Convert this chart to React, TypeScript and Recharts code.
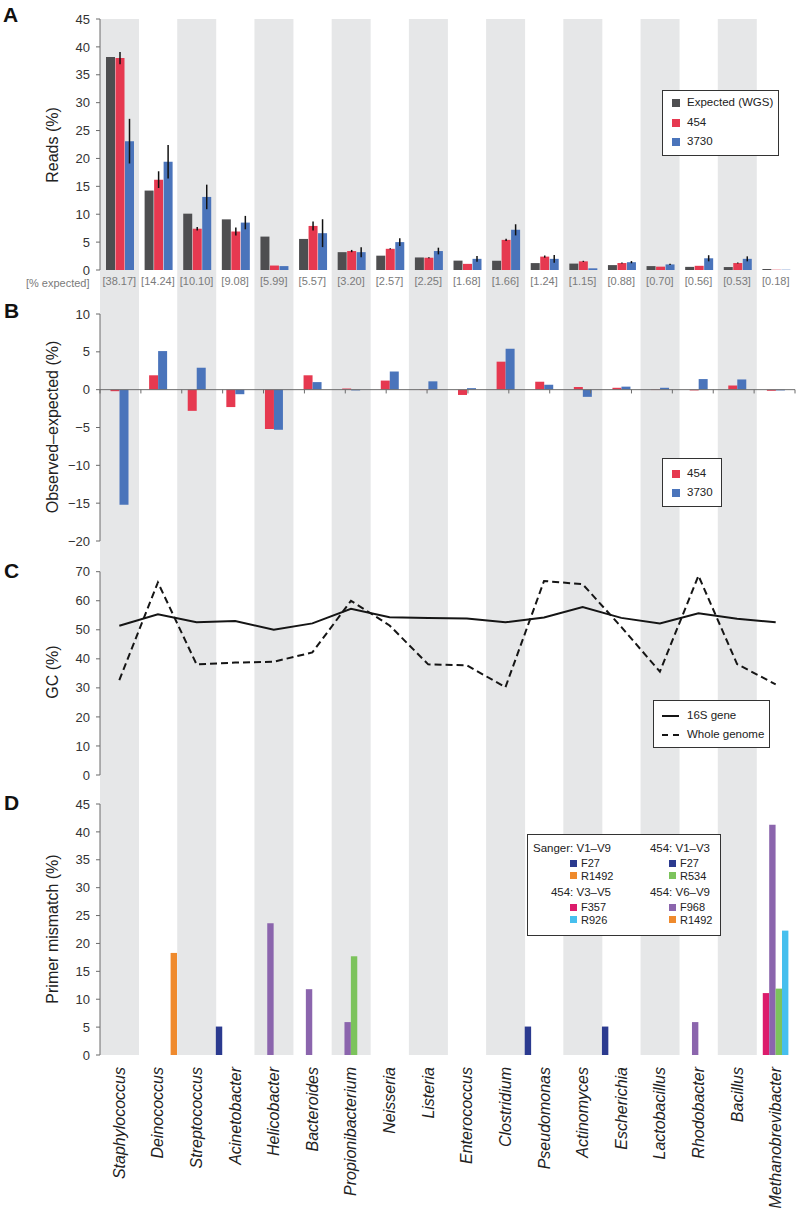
import React from 'react';
import { BarChart, Bar, LineChart, Line, XAxis, YAxis, ErrorBar, ReferenceLine } from 'recharts';

// genera in order of expected abundance
const genera = [
  'Staphylococcus', 'Deinococcus', 'Streptococcus', 'Acinetobacter', 'Helicobacter', 'Bacteroides',
  'Propionibacterium', 'Neisseria', 'Listeria', 'Enterococcus', 'Clostridium', 'Pseudomonas',
  'Actinomyces', 'Escherichia', 'Lactobacillus', 'Rhodobacter', 'Bacillus', 'Methanobrevibacter',
];

// A: reads (%)
const expectedPct = [38.17, 14.24, 10.1, 9.08, 5.99, 5.57, 3.2, 2.57, 2.25, 1.68, 1.66, 1.24, 1.15, 0.88, 0.7, 0.56, 0.53, 0.18];
const reads454 = [38.0, 16.2, 7.4, 6.9, 0.8, 7.9, 3.4, 3.8, 2.2, 1.1, 5.4, 2.4, 1.55, 1.25, 0.6, 0.75, 1.25, 0.05];
const err454 = [1.1, 1.5, 0.3, 0.7, 0, 0.8, 0.2, 0.1, 0.1, 0, 0.2, 0.2, 0.1, 0.1, 0, 0, 0.1, 0];
const reads3730 = [23.1, 19.4, 13.1, 8.5, 0.7, 6.6, 3.2, 5.0, 3.4, 2.0, 7.2, 2.0, 0.3, 1.4, 1.0, 2.1, 2.0, 0.05];
const err3730 = [4.0, 3.0, 2.2, 1.2, 0, 2.5, 0.9, 0.7, 0.6, 0.5, 1.0, 0.7, 0, 0.2, 0.1, 0.55, 0.45, 0];

// B: observed - expected (%)
const diff454 = [-0.2, 1.9, -2.8, -2.3, -5.2, 1.9, 0.15, 1.2, -0.05, -0.7, 3.7, 1.05, 0.35, 0.25, -0.05, -0.1, 0.55, -0.15];
const diff3730 = [-15.2, 5.1, 2.9, -0.6, -5.3, 1.0, -0.1, 2.4, 1.1, 0.2, 5.4, 0.65, -0.95, 0.4, 0.25, 1.4, 1.35, -0.1];

// C: GC content (%)
const gc16S = [51.4, 55.3, 52.6, 53.0, 50.0, 52.2, 57.2, 54.3, 54.1, 53.9, 52.6, 54.2, 57.8, 54.1, 52.2, 55.7, 53.8, 52.6];
const gcGenome = [32.7, 66.3, 38.1, 38.7, 39.0, 42.2, 60.0, 51.5, 38.1, 37.8, 30.2, 66.8, 65.7, 51.0, 35.6, 68.6, 38.2, 31.2];

// D: primer mismatch (%)
const mmF27 = [0, 0, 0, 5.1, 0, 0, 0, 0, 0, 0, 0, 5.1, 0, 5.1, 0, 0, 0, 0];
const mmF357 = [0, 0, 0, 0, 0, 0, 0, 0, 0, 0, 0, 0, 0, 0, 0, 0, 0, 11.1];
const mmF968 = [0, 0, 0, 0, 23.6, 11.8, 5.9, 0, 0, 0, 0, 0, 0, 0, 0, 5.9, 0, 41.3];
const mmR534 = [0, 0, 0, 0, 0, 0, 17.7, 0, 0, 0, 0, 0, 0, 0, 0, 0, 0, 11.9];
const mmR926 = [0, 0, 0, 0, 0, 0, 0, 0, 0, 0, 0, 0, 0, 0, 0, 0, 0, 22.3];
const mmR1492 = [0, 18.3, 0, 0, 0, 0, 0, 0, 0, 0, 0, 0, 0, 0, 0, 0, 0, 0];

const bandShade = [1, 0, 1, 0, 1, 0, 1, 0, 1, 0, 1, 0, 1, 0, 1, 0, 1, 0];

const readsTicks = [0, 5, 10, 15, 20, 25, 30, 35, 40, 45];
const diffTicks = [-20, -15, -10, -5, 0, 5, 10];
const gcTicks = [0, 10, 20, 30, 40, 50, 60, 70];
const mismatchTicks = [0, 5, 10, 15, 20, 25, 30, 35, 40, 45];
const boundaryTicks = [0, 1, 2, 3, 4, 5, 6, 7, 8, 9, 10, 11, 12, 13, 14, 15, 16, 17, 18];

const FONT = '"Liberation Sans", Arial, Helvetica, sans-serif';
const AXIS = '#6b6b6b';
const C_EXP = '#4e4e50';
const C_454 = '#e63950';
const C_3730 = '#4a74bb';
const C_BAND = '#e6e7e8';
const C_F27 = '#2b3a8f';
const C_F357 = '#dc1c6c';
const C_F968 = '#8b65ad';
const C_R534 = '#7cc35c';
const C_R926 = '#46bfee';
const C_R1492 = '#ef8a2d';

const primerSets = [
  { title: 'Sanger: V1–V9', primers: [{ name: 'F27', color: C_F27 }, { name: 'R1492', color: C_R1492 }] },
  { title: '454: V1–V3', primers: [{ name: 'F27', color: C_F27 }, { name: 'R534', color: C_R534 }] },
  { title: '454: V3–V5', primers: [{ name: 'F357', color: C_F357 }, { name: 'R926', color: C_R926 }] },
  { title: '454: V6–V9', primers: [{ name: 'F968', color: C_F968 }, { name: 'R1492', color: C_R1492 }] },
];

const bandRows = genera.map((genus, i) => ({ genus, shade: bandShade[i] }));
const readsRows = genera.map((genus, i) => ({
  genus,
  label: `[${expectedPct[i].toFixed(2)}]`,
  expected: expectedPct[i],
  r454: reads454[i],
  e454: err454[i],
  r3730: reads3730[i],
  e3730: err3730[i],
}));
const diffRows = genera.map((genus, i) => ({ genus, d454: diff454[i], d3730: diff3730[i] }));
const gcRows = genera.map((genus, i) => ({ genus, gene: gc16S[i], genome: gcGenome[i] }));
const mismatchRows = genera.map((genus, i) => ({
  genus, F27: mmF27[i], F357: mmF357[i], F968: mmF968[i], R534: mmR534[i], R926: mmR926[i], R1492: mmR1492[i],
}));

const minus = (v: number) => (v < 0 ? `\u2212${-v}` : `${v}`);

const yAxisProps = {
  width: 60,
  tickSize: 4,
  tickMargin: 6,
  interval: 0 as const,
  stroke: AXIS,
  tick: { fontSize: 13, fill: '#333' },
};

const Txt = ({ x, y, size, anchor = 'start', color = '#222', weight = 400, rotate = false, children }: any) => {
  const tx = anchor === 'start' ? '0' : anchor === 'middle' ? '-50%' : '-100%';
  return (
    <div
      style={{
        position: 'absolute', left: x, top: y, fontSize: size, fontWeight: weight, color,
        lineHeight: 1, whiteSpace: 'nowrap',
        transform: `translate(${tx}, -50%)${rotate ? ' rotate(-90deg)' : ''}`,
      }}
    >
      {children}
    </div>
  );
};

const Swatch = ({ x, y, color, size = 8 }: any) => (
  <div style={{ position: 'absolute', left: x, top: y - size / 2, width: size, height: size, background: color }} />
);

const Box = ({ x, y, w, h, children }: any) => (
  <div style={{ position: 'absolute', left: x, top: y, width: w, height: h, border: '1px solid #333', background: '#fff', boxSizing: 'border-box' }}>
    {children}
  </div>
);

const GenusTick = (props: any) => {
  const { x, y, payload } = props;
  return (
    <text x={x} y={y} transform={`rotate(-90 ${x} ${y})`} textAnchor="end" dominantBaseline="central"
      fontStyle="italic" fontSize={16} fill="#222">
      {payload.value}
    </text>
  );
};

const layer = (top: number): React.CSSProperties => ({ position: 'absolute', left: 0, top });

export default function App() {
  return (
    <div style={{ position: 'absolute', left: 0, top: 0, width: 800, height: 1214, background: '#fff', fontFamily: FONT, overflow: 'hidden' }}>
      {/* alternating grey bands behind all four panels */}
      <div style={layer(0)}>
        <BarChart width={800} height={1214} data={bandRows} margin={{ top: 19, right: 5, bottom: 159, left: 100 }} barCategoryGap={0}>
          <XAxis dataKey="genus" hide />
          <YAxis domain={[0, 1]} hide />
          <Bar dataKey="shade" fill={C_BAND} isAnimationActive={false} />
        </BarChart>
      </div>

      {/* A */}
      <div style={layer(0)}>
        <BarChart width={800} height={300} data={readsRows} margin={{ top: 19, right: 5, bottom: 0, left: 40 }} barCategoryGap={6} barGap={0.5}>
          <XAxis xAxisId="tk" type="number" domain={[0, 18]} ticks={boundaryTicks} height={0} tickSize={4}
            tickFormatter={() => ''} stroke={AXIS} allowDataOverflow />
          <XAxis xAxisId="cat" dataKey="label" height={30} axisLine={false} tickLine={false} tickSize={4} tickMargin={3}
            interval={0} tick={{ fontSize: 11, fill: '#7a7a7a' }} />
          <YAxis {...yAxisProps} domain={[0, 45]} ticks={readsTicks} />
          <Bar xAxisId="cat" dataKey="expected" fill={C_EXP} isAnimationActive={false} />
          <Bar xAxisId="cat" dataKey="r454" fill={C_454} isAnimationActive={false}>
            <ErrorBar dataKey="e454" width={0} stroke="#111" strokeWidth={1.5} />
          </Bar>
          <Bar xAxisId="cat" dataKey="r3730" fill={C_3730} isAnimationActive={false}>
            <ErrorBar dataKey="e3730" width={0} stroke="#111" strokeWidth={1.5} />
          </Bar>
        </BarChart>
      </div>

      {/* B */}
      <div style={layer(300)}>
        <BarChart width={800} height={250} data={diffRows} margin={{ top: 14, right: 5, bottom: 9, left: 40 }} barCategoryGap={10.5} barGap={0}>
          <XAxis xAxisId="cat" dataKey="genus" hide />
          <XAxis xAxisId="tk" type="number" domain={[0, 18]} hide allowDataOverflow />
          <YAxis {...yAxisProps} domain={[-20, 10]} ticks={diffTicks} tickFormatter={minus} />
          <Bar xAxisId="cat" dataKey="d454" fill={C_454} isAnimationActive={false} />
          <Bar xAxisId="cat" dataKey="d3730" fill={C_3730} isAnimationActive={false} />
          <ReferenceLine xAxisId="tk" y={0} stroke={AXIS} />
          {boundaryTicks.map((t) => (
            <ReferenceLine key={t} xAxisId="tk" segment={[{ x: t, y: 0 }, { x: t, y: -0.5 }]} stroke={AXIS} ifOverflow="visible" />
          ))}
        </BarChart>
      </div>

      {/* C */}
      <div style={layer(550)}>
        <LineChart width={800} height={240} data={gcRows} margin={{ top: 21.7, right: 5, bottom: 0, left: 40 }}>
          <XAxis xAxisId="tk" type="number" domain={[0, 18]} ticks={boundaryTicks} height={15} tickSize={4}
            tickFormatter={() => ''} stroke={AXIS} allowDataOverflow />
          <XAxis xAxisId="cat" dataKey="genus" scale="band" hide />
          <YAxis {...yAxisProps} domain={[0, 70]} ticks={gcTicks} />
          <Line xAxisId="cat" dataKey="gene" stroke="#151515" strokeWidth={2} dot={false} isAnimationActive={false} />
          <Line xAxisId="cat" dataKey="genome" stroke="#151515" strokeWidth={2} strokeDasharray="7 4" dot={false} isAnimationActive={false} />
        </LineChart>
      </div>

      {/* D */}
      <div style={layer(790)}>
        <BarChart width={800} height={424} data={mismatchRows} margin={{ top: 14, right: 5, bottom: 0, left: 40 }} barGap={0} barSize={6.4}>
          <XAxis xAxisId="tk" type="number" domain={[0, 18]} ticks={boundaryTicks} height={0} tickSize={4}
            tickFormatter={() => ''} stroke={AXIS} allowDataOverflow />
          <XAxis xAxisId="cat" dataKey="genus" height={159} axisLine={false} tickLine={false} tickSize={6} tickMargin={6}
            interval={0} tick={(p: any) => <GenusTick {...p} />} />
          <YAxis {...yAxisProps} domain={[0, 45]} ticks={mismatchTicks} />
          <Bar xAxisId="cat" dataKey="F27" fill={C_F27} isAnimationActive={false} />
          <Bar xAxisId="cat" dataKey="F357" fill={C_F357} isAnimationActive={false} />
          <Bar xAxisId="cat" dataKey="F968" fill={C_F968} isAnimationActive={false} />
          <Bar xAxisId="cat" dataKey="R534" fill={C_R534} isAnimationActive={false} />
          <Bar xAxisId="cat" dataKey="R926" fill={C_R926} isAnimationActive={false} />
          <Bar xAxisId="cat" dataKey="R1492" fill={C_R1492} isAnimationActive={false} />
        </BarChart>
      </div>

      {/* panel letters, axis titles */}
      <Txt x={3} y={14} size={21} weight={700} color="#111">A</Txt>
      <Txt x={4} y={310} size={21} weight={700} color="#111">B</Txt>
      <Txt x={4} y={570} size={21} weight={700} color="#111">C</Txt>
      <Txt x={4} y={802} size={21} weight={700} color="#111">D</Txt>
      <Txt x={52.5} y={144.5} size={16} anchor="middle" rotate>Reads (%)</Txt>
      <Txt x={52.5} y={427} size={16} anchor="middle" rotate>Observed–expected (%)</Txt>
      <Txt x={52.5} y={672} size={16} anchor="middle" rotate>GC (%)</Txt>
      <Txt x={52.5} y={929} size={16} anchor="middle" rotate>Primer mismatch (%)</Txt>
      <Txt x={89.5} y={283} size={11} anchor="end" color="#7a7a7a">[% expected]</Txt>

      {/* legend A */}
      <Box x={662} y={90} w={117} h={66} />
      {[{ n: 'Expected (WGS)', c: C_EXP }, { n: '454', c: C_454 }, { n: '3730', c: C_3730 }].map((s, i) => (
        <React.Fragment key={s.n}>
          <Swatch x={672} y={103 + i * 19.7} color={s.c} />
          <Txt x={687} y={103 + i * 19.7} size={11.5}>{s.n}</Txt>
        </React.Fragment>
      ))}

      {/* legend B */}
      <Box x={662} y={458} w={60} h={49} />
      {[{ n: '454', c: C_454 }, { n: '3730', c: C_3730 }].map((s, i) => (
        <React.Fragment key={s.n}>
          <Swatch x={672} y={474 + i * 19.2} color={s.c} />
          <Txt x={687} y={474 + i * 19.2} size={11.5}>{s.n}</Txt>
        </React.Fragment>
      ))}

      {/* legend C */}
      <Box x={653} y={700} w={117} h={48} />
      <div style={{ position: 'absolute', left: 662, top: 715, width: 17, borderTop: '2px solid #151515' }} />
      <Txt x={687} y={716} size={11.5}>16S gene</Txt>
      <div style={{ position: 'absolute', left: 662, top: 734, width: 17, borderTop: '2px dashed #151515' }} />
      <Txt x={687} y={735} size={11.5}>Whole genome</Txt>

      {/* legend D */}
      <Box x={527} y={834} w={194} h={102} />
      {primerSets.map((set, i) => {
        const col = i % 2;
        const row = Math.floor(i / 2);
        const hy = 849.3 + row * 44;
        const right = col === 0 ? 611 : 710;
        const sx = col === 0 ? 570 : 669;
        return (
          <React.Fragment key={set.title}>
            <Txt x={right} y={hy} size={11.5} anchor="end">{set.title}</Txt>
            {set.primers.map((p, j) => (
              <React.Fragment key={p.name}>
                <Swatch x={sx} y={hy + 14 + j * 12.4} color={p.color} size={7} />
                <Txt x={sx + 11} y={hy + 14 + j * 12.4} size={11}>{p.name}</Txt>
              </React.Fragment>
            ))}
          </React.Fragment>
        );
      })}
    </div>
  );
}
